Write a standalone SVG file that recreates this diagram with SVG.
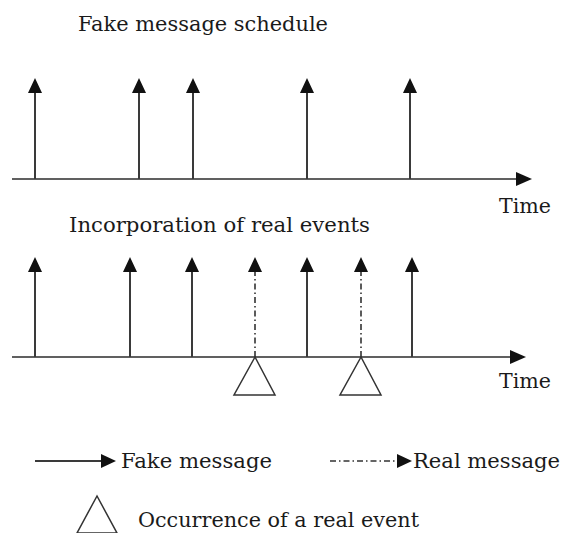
<svg xmlns="http://www.w3.org/2000/svg" width="563" height="533" viewBox="0 0 563 533">
<style>
.t{font-family:"DejaVu Serif","Liberation Serif",serif;font-size:20px;fill:#1a1a1a}
.ax{stroke:#2b2b2b;stroke-width:1.6;fill:none}
.fk{stroke:#3a3a3a;stroke-width:2;fill:none}
.rl{stroke:#333;stroke-width:1.6;fill:none;stroke-dasharray:6 3 1.5 3}
.tri{fill:#fff;stroke:#333;stroke-width:1.5}
</style>
<defs>
<marker id="ah" viewBox="0 0 15 14" refX="0" refY="7" markerWidth="15" markerHeight="14" markerUnits="userSpaceOnUse" orient="auto">
<path d="M0,0 L15,7 L0,14 Z" fill="#111"/>
</marker>
<marker id="ax" viewBox="0 0 16 14" refX="0" refY="7" markerWidth="16" markerHeight="14" markerUnits="userSpaceOnUse" orient="auto">
<path d="M0,0 L16,7 L0,14 Z" fill="#111"/>
</marker>
</defs>
<g id="titles">
<text class="t" x="78" y="31" textLength="250" lengthAdjust="spacingAndGlyphs">Fake message schedule</text>
<text class="t" x="69" y="232" textLength="301" lengthAdjust="spacingAndGlyphs">Incorporation of real events</text>
<text class="t" x="499" y="213" textLength="52" lengthAdjust="spacingAndGlyphs">Time</text>
<text class="t" x="499" y="388" textLength="52" lengthAdjust="spacingAndGlyphs">Time</text>
</g>
<g id="connectors">
<line class="ax" x1="12" y1="179" x2="516" y2="179" marker-end="url(#ax)"/>
<line class="fk" x1="35" y1="179" x2="35" y2="93" marker-end="url(#ah)"/>
<line class="fk" x1="139" y1="179" x2="139" y2="93" marker-end="url(#ah)"/>
<line class="fk" x1="193" y1="179" x2="193" y2="93" marker-end="url(#ah)"/>
<line class="fk" x1="307" y1="179" x2="307" y2="93" marker-end="url(#ah)"/>
<line class="fk" x1="410" y1="179" x2="410" y2="93" marker-end="url(#ah)"/>
<line class="ax" x1="12" y1="357" x2="510" y2="357" marker-end="url(#ax)"/>
<line class="fk" x1="35" y1="357" x2="35" y2="272" marker-end="url(#ah)"/>
<line class="fk" x1="130" y1="357" x2="130" y2="272" marker-end="url(#ah)"/>
<line class="fk" x1="192" y1="357" x2="192" y2="272" marker-end="url(#ah)"/>
<line class="rl" x1="255" y1="357" x2="255" y2="272" marker-end="url(#ah)"/>
<line class="fk" x1="307" y1="357" x2="307" y2="272" marker-end="url(#ah)"/>
<line class="rl" x1="361" y1="357" x2="361" y2="272" marker-end="url(#ah)"/>
<line class="fk" x1="412" y1="357" x2="412" y2="272" marker-end="url(#ah)"/>
</g>
<g id="event1"><polygon class="tri" points="255,357 234,395 275,395"/></g>
<g id="event2"><polygon class="tri" points="361,357 340,395 381,395"/></g>
<g id="legend">
<line class="fk" x1="35" y1="461" x2="101" y2="461" marker-end="url(#ah)"/>
<text class="t" x="121" y="468" textLength="151" lengthAdjust="spacingAndGlyphs">Fake message</text>
<line class="rl" x1="330" y1="461" x2="397" y2="461" marker-end="url(#ah)"/>
<text class="t" x="413" y="468" textLength="147" lengthAdjust="spacingAndGlyphs">Real message</text>
<polygon class="tri" points="97,496 77,533 117,533"/>
<text class="t" x="138" y="527" textLength="281" lengthAdjust="spacingAndGlyphs">Occurrence of a real event</text>
</g>
</svg>
